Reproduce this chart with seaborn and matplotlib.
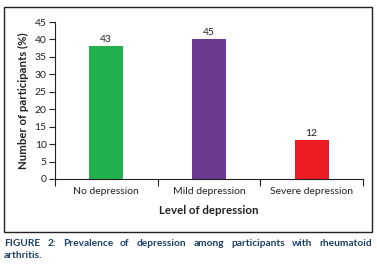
import matplotlib
matplotlib.use('Agg')
import matplotlib.pyplot as plt
import seaborn as sns
import pandas as pd
from matplotlib.patches import Rectangle

# Data (bar heights as drawn, labels as printed)
categories = ['No depression', 'Mild depression', 'Severe depression']
bar_heights = [38.2, 40.2, 11.3]
bar_labels = ['43', '45', '12']
bar_colors = ['#22b14c', '#6b3a90', '#ed1c24']
y_ticks = list(range(0, 50, 5))

caption_line1 = 'FIGURE 2: Prevalence of depression among participants with rheumatoid'
caption_line2 = 'arthritis.'

df = pd.DataFrame({'level': categories, 'pct': bar_heights})

sns.set_theme(style='white')
plt.rcParams['font.family'] = ['Lato', 'DejaVu Sans']

fig = plt.figure(figsize=(3.77, 2.70), dpi=100)
ax = fig.add_axes([55/377, 1 - 179/270, (363 - 55)/377, 157/270])

sns.barplot(data=df, x='level', y='pct', hue='level', palette=bar_colors,
            width=0.33, legend=False, ax=ax, saturation=1, linewidth=0)

for i, cont in enumerate(ax.containers):
    ax.bar_label(cont, labels=[bar_labels[i]], fontsize=7.5, padding=1, color='#222222')

ax.set_xlim(-0.5, 2.5)
ax.set_ylim(0, 45)
ax.set_yticks(y_ticks)
ax.tick_params(axis='y', labelsize=7.5, length=4, width=0.8, direction='out', left=True, pad=2, colors='#222222')

# boundary ticks on x, labels centred between them
ax.set_xticks([-0.5, 0.5, 1.5, 2.5])
ax.set_xticklabels([])
ax.set_xticks([0, 1, 2], minor=True)
ax.set_xticklabels(categories, minor=True)
ax.tick_params(axis='x', which='major', length=5, width=0.8, direction='out', bottom=True, colors='#222222')
ax.tick_params(axis='x', which='minor', length=0, labelsize=7.5, pad=6, colors='#222222')

ax.set_xlabel('Level of depression', fontsize=8.3, fontweight='bold', labelpad=6, color='#222222')
ax.set_ylabel('Number of participants (%)', fontsize=8.2, fontweight='bold', labelpad=4, color='#222222')

sns.despine(ax=ax)
for s in ['left', 'bottom']:
    ax.spines[s].set_color('#222222')
    ax.spines[s].set_linewidth(0.8)

# outer frame
fig.patches.append(Rectangle((4/377, 1 - 232/270), (372 - 4)/377, (232 - 7)/270,
                             transform=fig.transFigure, fill=False,
                             edgecolor='#222222', linewidth=1.0))

# justified caption, first line
cap_color = '#1c3f66'
cap_kw = dict(fontsize=7.3, fontweight='bold', color=cap_color, va='baseline')
words = caption_line1.split(' ')
fig.canvas.draw()
renderer = fig.canvas.get_renderer()
texts = [fig.text(0, 1 - 246/270, w, **cap_kw) for w in words]
widths = [t.get_window_extent(renderer).width for t in texts]
x0, x1 = 4, 372
gap = (x1 - x0 - sum(widths)) / (len(words) - 1)
x = x0
for t, w in zip(texts, widths):
    t.set_x(x / 377)
    x += w + gap
fig.text(4/377, 1 - 258/270, caption_line2, **cap_kw)

fig.savefig('out.png', dpi=100)
